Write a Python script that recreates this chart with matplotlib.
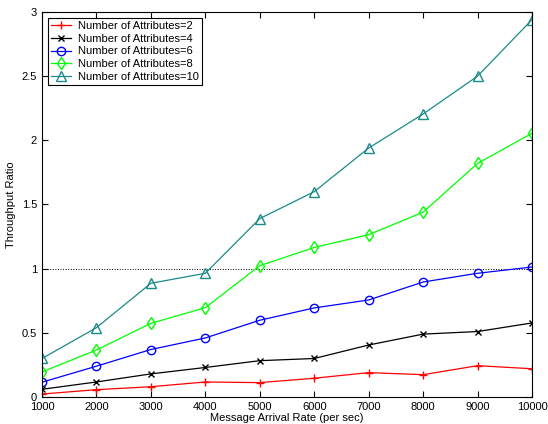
import numpy as np
import matplotlib.pyplot as plt

plt.rcParams['font.family'] = ['Liberation Sans', 'DejaVu Sans']

rate = [1000, 2000, 3000, 4000, 5000, 6000, 7000, 8000, 9000, 10000]
attr2 = [0.023, 0.057, 0.08, 0.117, 0.112, 0.146, 0.19, 0.174, 0.244, 0.22]
attr4 = [0.06, 0.117, 0.18, 0.23, 0.283, 0.30, 0.405, 0.49, 0.51, 0.577]
attr6 = [0.115, 0.24, 0.37, 0.46, 0.598, 0.694, 0.756, 0.896, 0.964, 1.013]
attr8 = [0.195, 0.366, 0.574, 0.696, 1.023, 1.165, 1.265, 1.44, 1.82, 2.055]
attr10 = [0.30, 0.54, 0.886, 0.964, 1.39, 1.60, 1.94, 2.205, 2.50, 2.94]

fig = plt.figure(figsize=(5.48, 4.24), dpi=100)
ax = fig.add_axes([0.0766, 0.0637, 0.8942, 0.908])

ax.axhline(1, color='black', linestyle=':', linewidth=0.7)

ax.plot(rate, attr2, '-+', color='red', lw=0.9, ms=6, label='Number of Attributes=2')
ax.plot(rate, attr4, '-x', color='black', lw=0.9, ms=4.5, label='Number of Attributes=4')
ax.plot(rate, attr6, '-o', color='blue', lw=0.9, ms=6, mfc='none', label='Number of Attributes=6')
ax.plot(rate, attr8, '-d', color='#00ff00', lw=0.9, ms=6.5, mfc='none', label='Number of Attributes=8')
ax.plot(rate, attr10, '-^', color='#1a8a8a', lw=0.9, ms=6.5, mfc='none', label='Number of Attributes=10')

ax.set_xlim(1000, 10000)
ax.set_ylim(0, 3)
ax.set_xticks(rate)
ax.set_yticks(np.arange(0, 3.01, 0.5))
ax.set_yticklabels(['0', '0.5', '1', '1.5', '2', '2.5', '3'])
ax.tick_params(direction='in', top=True, right=True, labelsize=8, length=4)
ax.set_xlabel('Message Arrival Rate (per sec)', fontsize=8, labelpad=1)
ax.set_ylabel('Throughput Ratio', fontsize=8)

leg = ax.legend(loc='upper left', fontsize=8, fancybox=False, framealpha=1,
                edgecolor='black', handlelength=1.8, labelspacing=0.25,
                borderpad=0.3, handletextpad=0.6, borderaxespad=0.5)
leg.get_frame().set_linewidth(0.8)

fig.savefig('out.png', dpi=100)
